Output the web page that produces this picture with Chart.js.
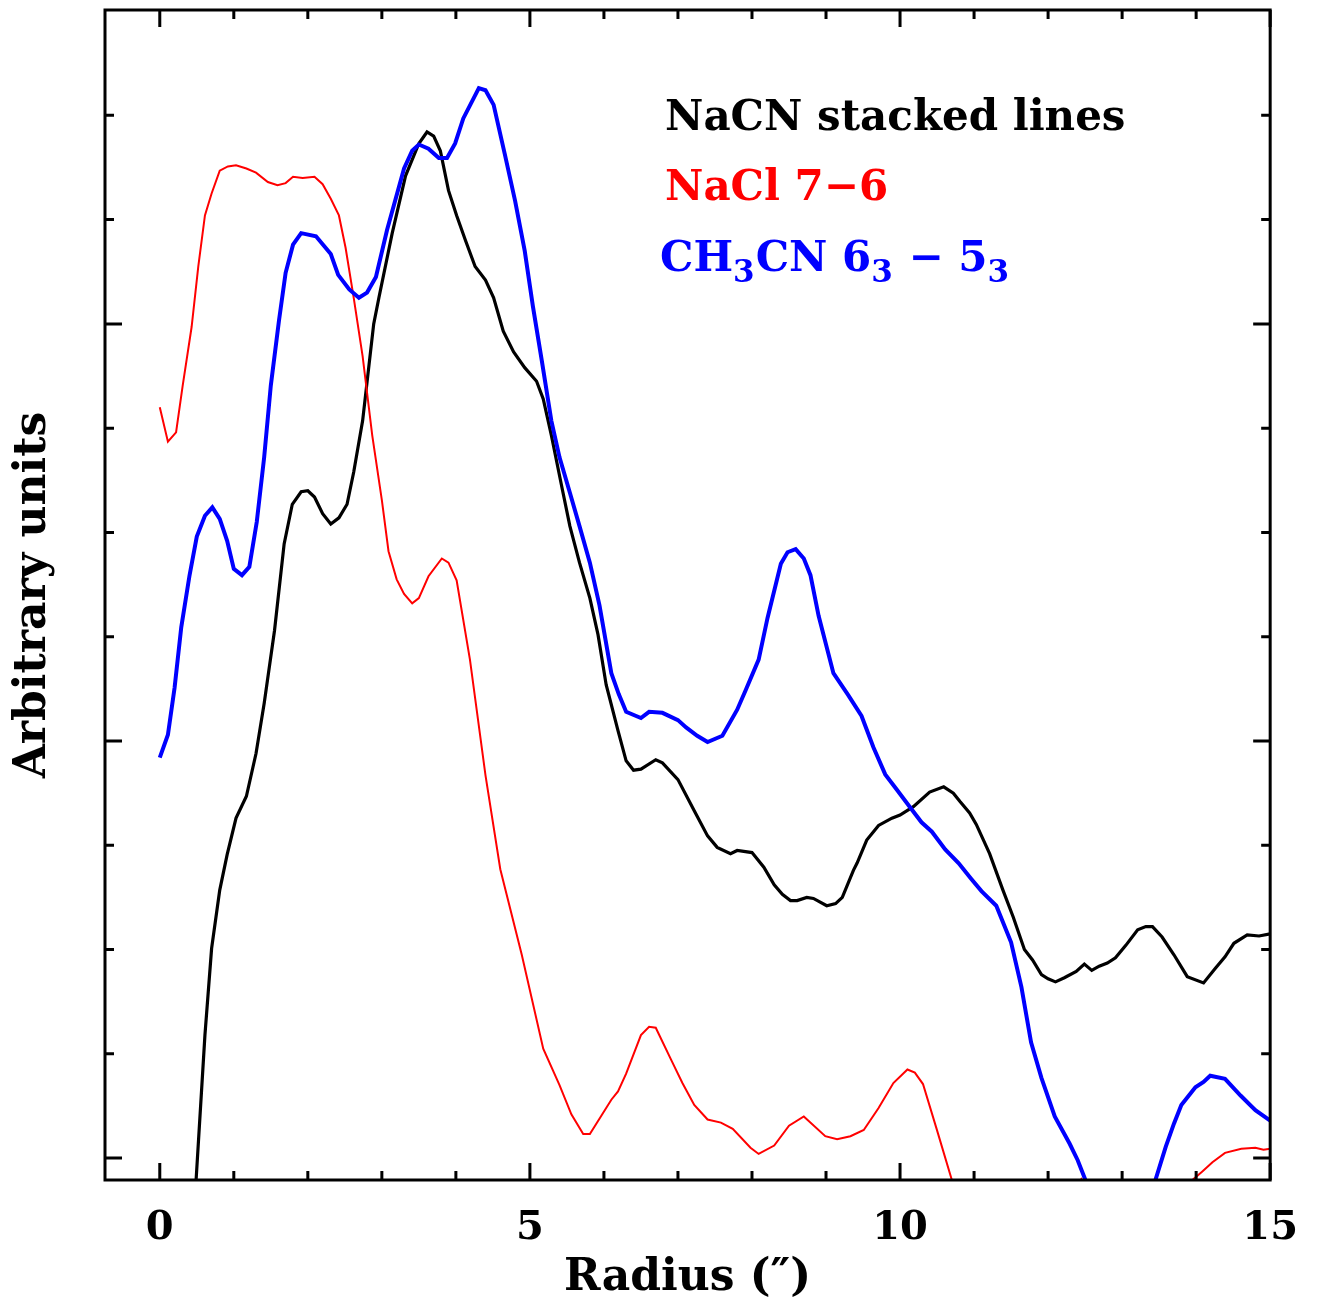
<!DOCTYPE html>
<html><head><meta charset="utf-8">
<script src="https://cdn.jsdelivr.net/npm/chart.js@4.4.1/dist/chart.umd.min.js"></script>
<style>html,body{margin:0;padding:0;background:#fff;} canvas{display:block;}</style>
</head><body>
<canvas id="c" width="1323" height="1308"></canvas>
<script>
// ---- data (radius in arcsec, arbitrary units) ----
const nacnProfile = [[0.47,-0.45],[0.61,1.18],[0.70,2.01],[0.81,2.57],[0.91,2.91],[1.03,3.26],[1.17,3.47],[1.30,3.88],[1.41,4.36],[1.55,5.06],[1.68,5.89],[1.79,6.27],[1.91,6.39],[2.00,6.40],[2.09,6.34],[2.20,6.18],[2.31,6.08],[2.42,6.14],[2.53,6.27],[2.62,6.58],[2.74,7.07],[2.89,8.00],[2.96,8.25],[3.14,8.87],[3.32,9.42],[3.50,9.73],[3.61,9.84],[3.70,9.80],[3.79,9.66],[3.90,9.28],[4.01,9.04],[4.13,8.80],[4.26,8.55],[4.40,8.42],[4.51,8.25],[4.64,7.93],[4.78,7.73],[4.93,7.58],[5.09,7.45],[5.18,7.28],[5.29,6.93],[5.43,6.44],[5.54,6.06],[5.67,5.71],[5.81,5.37],[5.92,5.02],[6.03,4.54],[6.19,4.10],[6.30,3.81],[6.40,3.72],[6.50,3.73],[6.70,3.82],[6.79,3.79],[7.00,3.63],[7.22,3.33],[7.40,3.09],[7.53,2.98],[7.71,2.92],[7.80,2.95],[8.00,2.93],[8.16,2.79],[8.30,2.62],[8.41,2.53],[8.52,2.47],[8.61,2.47],[8.74,2.50],[8.83,2.49],[9.01,2.42],[9.13,2.44],[9.22,2.50],[9.37,2.76],[9.42,2.83],[9.55,3.05],[9.71,3.19],[9.89,3.26],[10.00,3.29],[10.18,3.37],[10.40,3.51],[10.59,3.56],[10.72,3.50],[10.81,3.42],[10.94,3.31],[11.03,3.20],[11.21,2.92],[11.39,2.57],[11.53,2.31],[11.68,2.00],[11.79,1.90],[11.91,1.76],[12.00,1.72],[12.10,1.69],[12.22,1.73],[12.38,1.79],[12.49,1.86],[12.59,1.80],[12.69,1.84],[12.80,1.87],[12.91,1.92],[13.05,2.04],[13.21,2.19],[13.32,2.22],[13.41,2.22],[13.54,2.12],[13.70,1.95],[13.88,1.74],[14.10,1.68],[14.26,1.82],[14.39,1.93],[14.51,2.06],[14.69,2.14],[14.85,2.13],[15.00,2.15]];

const naclProfile = [[0.00,7.20],[0.11,6.87],[0.22,6.96],[0.31,7.41],[0.43,7.97],[0.52,8.55],[0.61,9.04],[0.70,9.25],[0.81,9.47],[0.92,9.51],[1.03,9.52],[1.17,9.49],[1.30,9.45],[1.46,9.36],[1.59,9.33],[1.70,9.35],[1.80,9.41],[1.93,9.40],[2.09,9.41],[2.20,9.34],[2.31,9.20],[2.42,9.04],[2.51,8.73],[2.62,8.25],[2.74,7.69],[2.87,6.93],[3.00,6.31],[3.09,5.82],[3.20,5.55],[3.30,5.41],[3.41,5.32],[3.50,5.37],[3.63,5.58],[3.81,5.75],[3.90,5.71],[4.01,5.54],[4.19,4.78],[4.40,3.67],[4.60,2.77],[4.89,1.95],[5.18,1.05],[5.40,0.70],[5.56,0.42],[5.72,0.23],[5.81,0.23],[6.10,0.56],[6.19,0.64],[6.30,0.81],[6.50,1.18],[6.61,1.26],[6.70,1.25],[6.91,0.94],[7.06,0.72],[7.22,0.51],[7.40,0.37],[7.58,0.34],[7.74,0.28],[7.98,0.10],[8.09,0.04],[8.30,0.12],[8.50,0.31],[8.70,0.40],[8.99,0.21],[9.15,0.18],[9.33,0.21],[9.51,0.27],[9.71,0.48],[9.91,0.72],[10.10,0.85],[10.20,0.82],[10.31,0.71],[10.49,0.29],[10.70,-0.21],[11.00,-0.90],[11.80,-1.00],[12.45,-0.20],[13.20,-0.90],[13.95,-0.21],[14.08,-0.13],[14.22,-0.04],[14.39,0.05],[14.61,0.09],[14.80,0.10],[14.91,0.08],[15.00,0.09]];

const ch3cnProfile = [[0.00,3.84],[0.11,4.06],[0.20,4.51],[0.29,5.09],[0.40,5.58],[0.50,5.96],[0.61,6.16],[0.71,6.24],[0.81,6.13],[0.91,5.92],[1.00,5.65],[1.11,5.59],[1.21,5.67],[1.31,6.10],[1.41,6.72],[1.50,7.41],[1.61,8.03],[1.70,8.49],[1.80,8.76],[1.91,8.87],[2.11,8.84],[2.31,8.67],[2.41,8.47],[2.56,8.33],[2.69,8.25],[2.80,8.30],[2.92,8.45],[3.07,8.90],[3.30,9.49],[3.41,9.66],[3.50,9.72],[3.63,9.68],[3.77,9.59],[3.88,9.59],[3.99,9.73],[4.10,9.97],[4.31,10.26],[4.40,10.24],[4.51,10.10],[4.66,9.63],[4.80,9.18],[4.93,8.70],[5.04,8.17],[5.16,7.65],[5.29,7.07],[5.40,6.72],[5.54,6.38],[5.67,6.06],[5.81,5.71],[5.94,5.30],[6.10,4.65],[6.20,4.45],[6.30,4.28],[6.50,4.22],[6.61,4.28],[6.79,4.27],[7.00,4.20],[7.11,4.13],[7.26,4.05],[7.40,3.99],[7.60,4.05],[7.80,4.30],[7.91,4.48],[8.09,4.78],[8.21,5.18],[8.39,5.70],[8.48,5.81],[8.59,5.84],[8.70,5.75],[8.79,5.59],[8.90,5.20],[9.10,4.65],[9.30,4.44],[9.48,4.24],[9.64,3.94],[9.80,3.68],[9.96,3.53],[10.13,3.37],[10.29,3.22],[10.43,3.13],[10.61,2.96],[10.79,2.83],[10.96,2.68],[11.10,2.56],[11.30,2.42],[11.50,2.07],[11.64,1.64],[11.77,1.11],[11.91,0.77],[12.09,0.40],[12.29,0.14],[12.40,-0.02],[12.51,-0.22],[12.65,-0.55],[13.00,-1.10],[13.30,-0.60],[13.45,-0.21],[13.59,0.11],[13.70,0.33],[13.80,0.51],[13.99,0.68],[14.10,0.73],[14.19,0.79],[14.39,0.76],[14.60,0.60],[14.80,0.46],[15.00,0.36]];

const seriesNames = ['NaCN stacked lines', 'NaCl 7\u22126', 'CH3CN'];
const xTickValues = [0, 5, 10, 15];
const xMinorTicks = [0,1,2,3,4,5,6,7,8,9,10,11,12,13,14,15];
const yMinorTicks = [0,1,2,3,4,5,6,7,8,9,10];
const yMajorTicks = [0, 4, 8];
const xRange = [-0.74, 15];
const yRange = [-0.21, 11.01];

const toPts = p => p.map(([x, y]) => ({x, y}));
const SERIF = '"DejaVu Serif", "Liberation Serif", serif';

const framePlugin = {
  id: 'frame',
  afterDatasetsDraw(chart) {
    const {ctx, chartArea: a, scales: {x, y}} = chart;
    ctx.save();
    ctx.strokeStyle = '#000';
    ctx.lineWidth = 3;
    ctx.strokeRect(a.left, a.top, a.right - a.left, a.bottom - a.top);
    ctx.beginPath();
    for (const v of xMinorTicks) {
      const px = x.getPixelForValue(v);
      const L = xTickValues.includes(v) ? 17 : 9;
      ctx.moveTo(px, a.bottom); ctx.lineTo(px, a.bottom - L);
      ctx.moveTo(px, a.top); ctx.lineTo(px, a.top + L);
    }
    for (const v of yMinorTicks) {
      const py = y.getPixelForValue(v);
      const L = yMajorTicks.includes(v) ? 17 : 9;
      ctx.moveTo(a.left, py); ctx.lineTo(a.left + L, py);
      ctx.moveTo(a.right, py); ctx.lineTo(a.right - L, py);
    }
    ctx.stroke();

    // legend text
    const lx = a.left + 560;
    ctx.textBaseline = 'alphabetic';
    ctx.textAlign = 'left';
    ctx.font = 'bold 42px ' + SERIF;
    ctx.fillStyle = '#000';
    ctx.fillText(seriesNames[0], lx, a.top + 120);
    ctx.fillStyle = '#ff0000';
    ctx.fillText(seriesNames[1], lx, a.top + 190);
    ctx.fillStyle = '#0000ff';
    const parts = [['CH', 0], ['3', 1], ['CN 6', 0], ['3', 1], [' \u2212 5', 0], ['3', 1]];
    let cx = lx - 5;
    const by = a.top + 261;
    for (const [t, sub] of parts) {
      ctx.font = (sub ? 'bold 31px ' : 'bold 42px ') + SERIF;
      ctx.fillText(t, cx, by + (sub ? 11 : 0));
      cx += ctx.measureText(t).width + (sub ? 1 : 0);
    }
    ctx.restore();
  }
};

new Chart(document.getElementById('c'), {
  type: 'line',
  data: {
    datasets: [
      {label: seriesNames[2], data: toPts(ch3cnProfile), borderColor: '#0000ff', borderWidth: 4, order: 0},
      {label: seriesNames[1], data: toPts(naclProfile), borderColor: '#ff0000', borderWidth: 2, order: 1},
      {label: seriesNames[0], data: toPts(nacnProfile), borderColor: '#000000', borderWidth: 3.2, order: 2}
    ]
  },
  options: {
    responsive: false,
    animation: false,
    devicePixelRatio: 1,
    clip: 0,
    elements: {point: {radius: 0}, line: {tension: 0, fill: false}},
    layout: {padding: {top: 10, right: 48, left: 0, bottom: 0}},
    plugins: {legend: {display: false}, tooltip: {enabled: false}},
    scales: {
      x: {
        type: 'linear', min: xRange[0], max: xRange[1],
        grid: {display: false, drawTicks: false},
        border: {display: false},
        afterBuildTicks: s => { s.ticks = xTickValues.map(v => ({value: v})); },
        afterFit: s => { s.height = 128; },
        ticks: {color: '#000', font: {family: SERIF, size: 40, weight: 'bold'}, padding: 25, maxRotation: 0, autoSkip: false},
        title: {display: true, text: 'Radius (\u2033)', color: '#000', font: {family: SERIF, size: 44, weight: 'bold'}, padding: {top: 0, bottom: 3}}
      },
      y: {
        type: 'linear', min: yRange[0], max: yRange[1],
        grid: {display: false, drawTicks: false},
        border: {display: false},
        ticks: {display: false},
        afterFit: s => { s.width = 105; },
        title: {display: true, text: 'Arbitrary units', color: '#000', font: {family: SERIF, size: 44, weight: 'bold'}, padding: {top: 7, bottom: 0}}
      }
    }
  },
  plugins: [framePlugin]
});
</script>
</body></html>
